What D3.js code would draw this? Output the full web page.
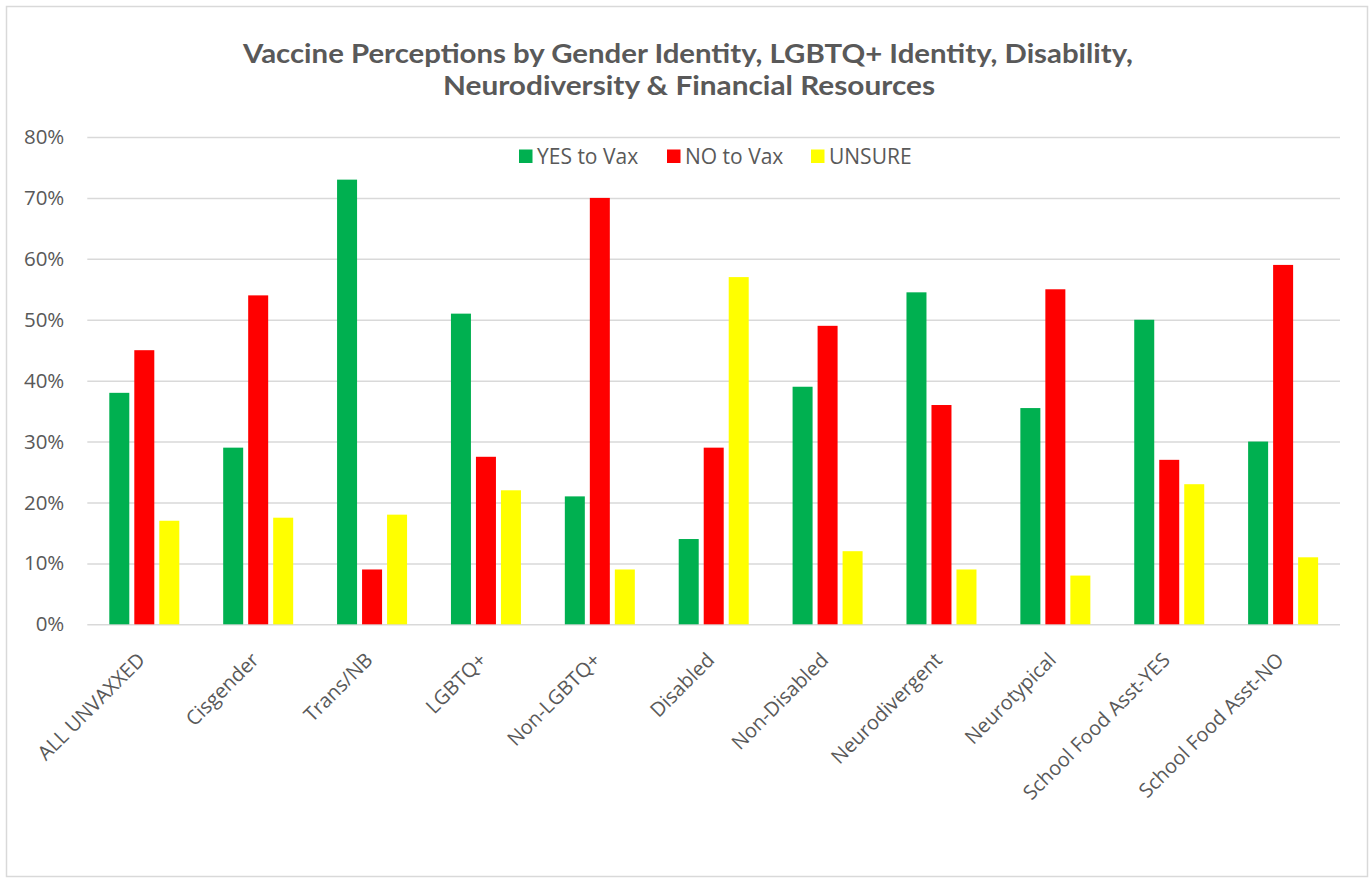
<!DOCTYPE html>
<meta charset="utf-8">
<style>
  body { margin: 0; background: #fff; }
  svg text { fill: #595959; font-family: "Open Sans", sans-serif; }
  .title { font-family: Lato, sans-serif; font-weight: bold; font-size: 27px; }
  .grid line { stroke: #d9d9d9; stroke-width: 1.5px; }
  .grid path { display: none; }
  .grid text { font-size: 20.5px; }
  .xaxis path, .xaxis line { display: none; }
  .xaxis text { font-size: 20px; }
  .legend text { font-size: 21px; }
</style>
<body>
<script src="https://d3js.org/d3.v7.min.js"></script>
<script>
// categories and series
var categories = ["ALL UNVAXXED", "Cisgender", "Trans/NB", "LGBTQ+", "Non-LGBTQ+", "Disabled",
                  "Non-Disabled", "Neurodivergent", "Neurotypical", "School Food Asst-YES", "School Food Asst-NO"];
var seriesNames = ["YES to Vax", "NO to Vax", "UNSURE"];
var seriesColors = ["#00b050", "#ff0000", "#ffff00"];

var yesVax  = [0.38, 0.29, 0.73, 0.51, 0.21, 0.14, 0.39, 0.545, 0.355, 0.50, 0.30];
var noVax   = [0.45, 0.54, 0.09, 0.275, 0.70, 0.29, 0.49, 0.36, 0.55, 0.27, 0.59];
var unsure  = [0.17, 0.175, 0.18, 0.22, 0.09, 0.57, 0.12, 0.09, 0.08, 0.23, 0.11];
var yTicks = [0, 0.1, 0.2, 0.3, 0.4, 0.5, 0.6, 0.7, 0.8];

var allSeries = [yesVax, noVax, unsure];

var W = 1369, H = 880;
var plot = { left: 87.3, right: 1340, top: 137, bottom: 624.3 };

var svg = d3.select("body").append("svg")
    .attr("width", W)
    .attr("height", H);

// chart border
svg.append("rect")
    .attr("x", 6.5).attr("y", 6.5)
    .attr("width", W - 8).attr("height", H - 10)
    .attr("fill", "#fff")
    .attr("stroke", "#d9d9d9")
    .attr("stroke-width", 1.5);

// title
svg.append("text").attr("class", "title")
    .attr("x", 688).attr("y", 63).attr("text-anchor", "middle")
    .attr("textLength", 890).attr("lengthAdjust", "spacingAndGlyphs")
    .text("Vaccine Perceptions by Gender Identity, LGBTQ+ Identity, Disability,");
svg.append("text").attr("class", "title")
    .attr("x", 689).attr("y", 95).attr("text-anchor", "middle")
    .attr("textLength", 492).attr("lengthAdjust", "spacingAndGlyphs")
    .text("Neurodiversity & Financial Resources");

// scales
var x0 = d3.scaleBand().domain(categories).range([plot.left, plot.right]).padding(0);
var x1 = d3.scaleBand().domain(seriesNames)
    .range([22, 92]).paddingInner(0.2).paddingOuter(0);
var y = d3.scaleLinear().domain([0, 0.8]).range([plot.bottom, plot.top]);

// gridlines + y labels
svg.append("g")
    .attr("class", "grid")
    .attr("transform", "translate(" + plot.left + ",0)")
    .call(d3.axisLeft(y)
        .tickValues(yTicks)
        .tickSize(-(plot.right - plot.left))
        .tickPadding(23)
        .tickFormat(d3.format(".0%")));

// bars
var groups = svg.append("g").selectAll("g")
    .data(categories)
    .enter().append("g")
    .attr("transform", function (d) { return "translate(" + x0(d) + ",0)"; });

groups.selectAll("rect")
    .data(function (d, i) {
      return seriesNames.map(function (s, j) { return { s: s, j: j, v: allSeries[j][i] }; });
    })
    .enter().append("rect")
    .attr("x", function (d) { return x1(d.s); })
    .attr("width", x1.bandwidth())
    .attr("y", function (d) { return y(d.v); })
    .attr("height", function (d) { return y(0) - y(d.v); })
    .attr("fill", function (d) { return seriesColors[d.j]; });

// x axis labels
var xa = svg.append("g")
    .attr("class", "xaxis")
    .attr("transform", "translate(0," + plot.bottom + ")")
    .call(d3.axisBottom(x0).tickSize(0).tickPadding(0));

xa.selectAll("text")
    .attr("text-anchor", "end")
    .attr("dy", null)
    .attr("y", 0)
    .attr("transform", "translate(2,37) rotate(-45)");

// legend
var legendX = [519, 667, 811];
var legend = svg.append("g").attr("class", "legend");
seriesNames.forEach(function (s, j) {
  legend.append("rect")
      .attr("x", legendX[j]).attr("y", 149.5)
      .attr("width", 13.5).attr("height", 13.5)
      .attr("fill", seriesColors[j]);
  legend.append("text")
      .attr("x", legendX[j] + 18).attr("y", 163.5)
      .text(s);
});
</script>
</body>
